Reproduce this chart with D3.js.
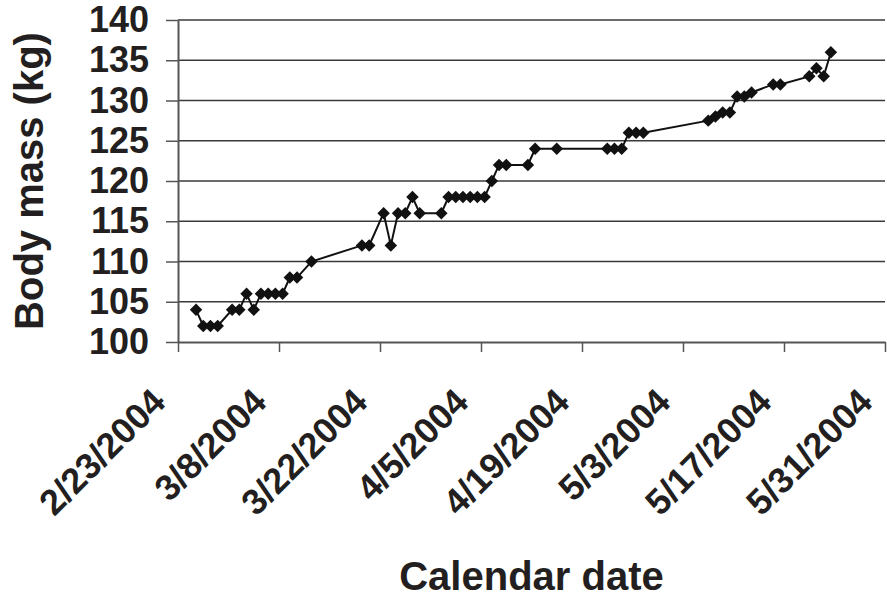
<!DOCTYPE html>
<html><head><meta charset="utf-8">
<script src="https://cdn.jsdelivr.net/npm/d3@7"></script>
<style>body{margin:0;background:#fff}svg{display:block}text{font-family:Arial,"Liberation Sans",sans-serif;font-weight:bold;fill:#231f20}</style>
</head><body>
<script>
const dates = ["2/25/2004","2/26/2004","2/27/2004","2/28/2004","3/1/2004","3/2/2004","3/3/2004","3/4/2004","3/5/2004","3/6/2004","3/7/2004","3/8/2004","3/9/2004","3/10/2004","3/12/2004","3/19/2004","3/20/2004","3/22/2004","3/23/2004","3/24/2004","3/25/2004","3/26/2004","3/27/2004","3/30/2004","3/31/2004","4/1/2004","4/2/2004","4/3/2004","4/4/2004","4/5/2004","4/6/2004","4/7/2004","4/8/2004","4/11/2004","4/12/2004","4/15/2004","4/22/2004","4/23/2004","4/24/2004","4/25/2004","4/26/2004","4/27/2004","5/6/2004","5/7/2004","5/8/2004","5/9/2004","5/10/2004","5/11/2004","5/12/2004","5/15/2004","5/16/2004","5/20/2004","5/21/2004","5/22/2004","5/23/2004"];
const mass = [104,102,102,102,104,104,106,104,106,106,106,106,108,108,110,112,112,116,112,116,116,118,116,116,118,118,118,118,118,118,120,122,122,122,124,124,124,124,124,126,126,126,127.5,128,128.5,128.5,130.5,130.5,131,132,132,133,134,133,136];
const xTickLabels = ["2/23/2004","3/8/2004","3/22/2004","4/5/2004","4/19/2004","5/3/2004","5/17/2004","5/31/2004"];
const yTicks = [100,105,110,115,120,125,130,135,140];

const parse = s => { const [m,d,y] = s.split("/").map(Number); return new Date(Date.UTC(y, m-1, d)); };
const W = 887, H = 597;
const L = 178, R = 885, T = 20, B = 342;
const svg = d3.select("body").append("svg").attr("width", W).attr("height", H);

const xTicks = xTickLabels.map(parse);
const x = d3.scaleUtc().domain([xTicks[0], xTicks[xTicks.length-1]]).range([L, R]);
const y = d3.scaleLinear().domain([100, 140]).range([B, T]);

// gridlines
svg.append("g").selectAll("line").data(yTicks.filter(v => v > 100)).join("line")
  .attr("x1", L).attr("x2", R).attr("y1", d => y(d)).attr("y2", d => y(d))
  .attr("stroke", "#3a3a3a").attr("stroke-width", 1.5);

// y axis
const ya = svg.append("g").attr("transform", `translate(${L},0)`)
  .call(d3.axisLeft(y).tickValues(yTicks).tickSize(12).tickPadding(17).tickSizeOuter(0));
ya.select(".domain").attr("stroke", "#555").attr("stroke-width", 2);
ya.selectAll(".tick line").attr("stroke", "#555").attr("stroke-width", 1.5);
ya.selectAll(".tick text").attr("font-size", 36).attr("fill", "#231f20").attr("font-family", "Arial, 'Liberation Sans', sans-serif");

// x axis
const xa = svg.append("g").attr("transform", `translate(0,${B})`)
  .call(d3.axisBottom(x).tickValues(xTicks).tickSize(10).tickSizeOuter(0).tickFormat((d,i) => xTickLabels[i]));
xa.select(".domain").attr("stroke", "#555").attr("stroke-width", 2);
xa.selectAll(".tick line").attr("stroke", "#555").attr("stroke-width", 1.5);
xa.selectAll(".tick text").attr("font-size", 36).attr("fill", "#231f20")
  .attr("font-family", "Arial, 'Liberation Sans', sans-serif")
  .attr("text-anchor", "end").attr("dy", null).attr("y", null)
  .attr("transform", "translate(-11,62) rotate(-45)");

// data
const pts = dates.map((s, i) => ({ d: d3.utcHour.offset(parse(s), 12), v: mass[i] }));
svg.append("path").datum(pts)
  .attr("d", d3.line().x(p => x(p.d)).y(p => y(p.v)))
  .attr("fill", "none").attr("stroke", "#111").attr("stroke-width", 2);
const sym = d3.symbol(d3.symbolSquare, 78)();
svg.append("g").selectAll("path").data(pts).join("path")
  .attr("d", sym).attr("fill", "#111")
  .attr("transform", p => `translate(${x(p.d)},${y(p.v)}) rotate(45)`);

// titles
svg.append("text").attr("x", (L + R) / 2).attr("y", 590).attr("text-anchor", "middle")
  .attr("font-size", 40).text("Calendar date");
svg.append("text").attr("transform", `translate(43,${(T + B) / 2}) rotate(-90)`).attr("text-anchor", "middle")
  .attr("font-size", 40).text("Body mass (kg)");
</script>
</body></html>
